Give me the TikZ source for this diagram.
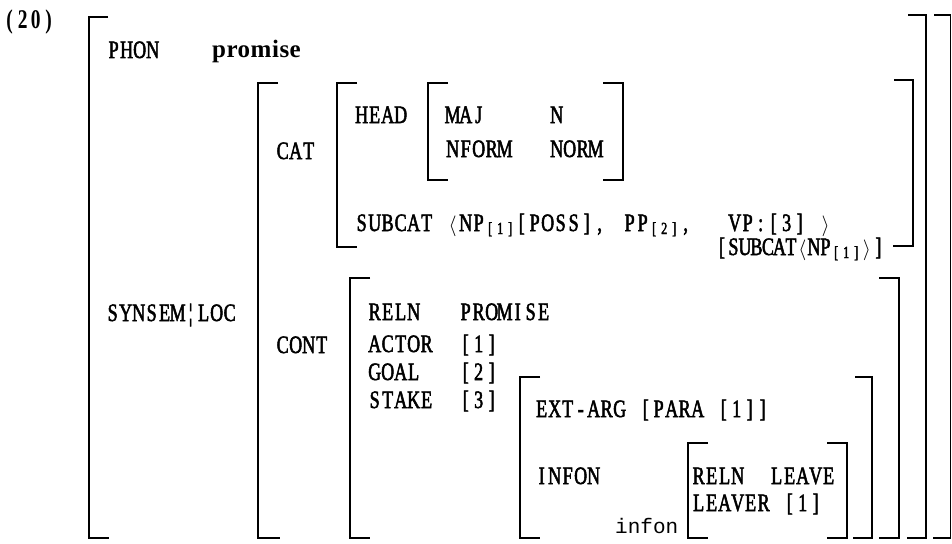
\documentclass[tikz,border=0pt]{standalone}
\usepackage{fontspec}
\setmainfont{Liberation Serif}[FakeStretch=0.72, UprightFeatures={FakeBold=2}]
\newfontfamily\lowbf{Liberation Serif}[FakeStretch=1.0, LetterSpace=2]
\newfontfamily\sortfont{Liberation Mono}
% every character in a cell of the same width
\newlength\cw
\setlength\cw{13pt}
\def\mtend{\mtend}
\newcommand{\mt}[1]{\mtloop#1\mtend}
\def\mtloop#1{\ifx\mtend#1\else\makebox[\cw][c]{#1}\expandafter\mtloop\fi}
\newcommand{\ix}[1]{\raisebox{-3pt}{\fontsize{17}{17}\selectfont\setlength\cw{10pt}\mt{[#1]}}}
\newcommand{\la}{{\fontsize{20}{20}\selectfont$\langle$}}
\newcommand{\ra}{{\fontsize{20}{20}\selectfont$\rangle$}}
\tikzset{
	brk/.style={line width=2.4pt},
	feat/.style={anchor=base west, inner sep=0pt, font=\fontsize{25}{29}\selectfont}
}
\begin{document}
\begin{tikzpicture}[x=1pt, y=-1pt]
		\useasboundingbox (0, 0) rectangle (952, 543);
		% brackets
		\draw[brk] (108, 17) -| (89, 538) -- (109, 538);
		\draw[brk] (278, 83) -| (258, 538) -- (280, 538);
		\draw[brk] (357, 83) -| (337, 247) -- (357, 247);
		\draw[brk] (448, 83) -| (428, 180) -- (448, 180);
		\draw[brk] (603, 83) -| (623, 180) -- (603, 180);
		\draw[brk] (894, 80) -| (913, 246) -- (893, 246);
		\draw[brk] (370, 278) -| (350, 538) -- (370, 538);
		\draw[brk] (879, 278) -| (899, 538) -- (879, 538);
		\draw[brk] (540, 377) -| (520, 538) -- (540, 538);
		\draw[brk] (855, 377) -| (872, 538) -- (853, 538);
		\draw[brk] (708, 443) -| (688, 538) -- (708, 538);
		\draw[brk] (827, 443) -| (847, 538) -- (827, 538);
		\draw[brk] (908, 15) -| (926, 538) -- (907, 538);
		\draw[line width=1.2pt] (934, 15) -| (950.5, 538) -- (933, 538);
		% labels
		\node[feat, font=\fontsize{27}{30}\selectfont] (num) at (3, 29) {\bfseries\mt{(20)}};
		\node[feat] (phon) at (107, 58) {\mt{PHON}};
		\node[feat] (phonval) at (212, 58) {\lowbf\bfseries promise};
		\node[feat] (synsem) at (106, 321) {\mt{SYNSEM¦LOC}};
		\node[feat] (cat) at (276, 159) {\mt{CAT}};
		\node[feat] (head) at (355, 123) {\mt{HEAD}};
		\node[feat] (maj) at (446, 123) {\mt{MAJ~~~~~N}};
		\node[feat] (nform) at (446, 157) {\mt{NFORM~~~NORM}};
		\node[feat] (subcat) at (355, 231) {\mt{SUBCAT~{\la}NP}\ix{1}\mt{[POSS],}};
		\node[feat] (subcatpp) at (623, 231) {\mt{PP}\ix{2}\mt{,}};
		\node[feat] (subcatvp) at (728, 231) {\mt{VP:[3]~{\ra}}};
		\node[feat] (vpsubcat) at (716, 255) {\setlength\cw{11.5pt}\mt{[SUBCAT{\la}NP}\ix{1}\mt{{\ra}]}};
		\node[feat] (cont) at (276, 353) {\mt{CONT}};
		\node[feat] (reln) at (368, 320) {\mt{RELN~~~PROMISE}};
		\node[feat] (actor) at (368, 352) {\mt{ACTOR~~[1]}};
		\node[feat] (goal) at (368, 380) {\mt{GOAL~~~[2]}};
		\node[feat] (stake) at (368, 408) {\mt{STAKE~~[3]}};
		\node[feat] (extarg) at (535, 417) {\mt{EXT-ARG~[PARA~[1]]}};
		\node[feat] (infon) at (535, 484) {\mt{INFON}};
		\node[feat] (leaveln) at (692, 484) {\mt{RELN~~LEAVE}};
		\node[feat] (leaver) at (692, 511) {\mt{LEAVER~[1]}};
		\node[feat, font=\sortfont\fontsize{21}{24}\selectfont] (infonsort) at (615, 533) {infon};
	\end{tikzpicture}
\end{document}
